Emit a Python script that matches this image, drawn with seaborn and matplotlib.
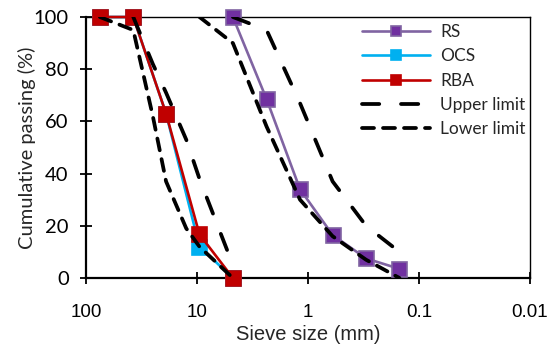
import matplotlib
matplotlib.use("Agg")
import matplotlib.pyplot as plt
import numpy as np
import pandas as pd
import seaborn as sns
from matplotlib.ticker import FixedLocator, FuncFormatter, NullLocator

# ---- data ----
coarse_sizes = [75, 37.5, 19, 9.5, 4.75]
rba = [100, 100, 63, 16.7, 0]
ocs = [100, 100, 63, 12, 0]

fine_sizes = [4.75, 2.36, 1.18, 0.6, 0.3, 0.15]
rs = [100, 68.5, 34, 16.5, 7.5, 3.5]

coarse_upper_sizes = [37.5, 25, 19, 12.5, 9.5, 4.75]
coarse_upper = [100, 82, 71, 53, 38, 5]
coarse_lower_sizes = [75, 37.5, 25, 19, 12.5, 9.5, 4.75]
coarse_lower = [100, 95, 62, 37, 19, 12, 0]

fine_upper_sizes = [4.75, 2.36, 1.18, 0.6, 0.3, 0.15]
fine_upper = [100, 95, 67, 37, 20, 10]
fine_lower_sizes = [9.5, 4.75, 2.36, 1.18, 0.6, 0.3, 0.15]
fine_lower = [100, 90, 58, 30, 16, 7, 0]

x_ticks = [100, 10, 1, 0.1, 0.01]
y_ticks = [0, 20, 40, 60, 80, 100]

sns.set_style("ticks")
plt.rcParams["font.family"] = ["Lato", "DejaVu Sans"]

W, H = 556, 344
fig = plt.figure(figsize=(W / 100, H / 100), dpi=100)
ax = fig.add_axes([86 / W, 1 - 278 / H, (530 - 86) / W, (278 - 17) / H])

def series(x, y, **kw):
    df = pd.DataFrame({"size": x, "passing": y})
    sns.lineplot(data=df, x="size", y="passing", ax=ax, sort=False,
                 estimator=None, **kw)

ms = 10.8
series(fine_sizes, rs, color="#8064A2", linewidth=1.9, marker="s", markersize=ms,
       markerfacecolor="#7030A0", markeredgecolor="#8064A2", markeredgewidth=1.2,
       label="RS", clip_on=False, zorder=3)
series(coarse_sizes, ocs, color="#00B0F0", linewidth=1.9, marker="s", markersize=ms,
       markerfacecolor="#00B0F0", markeredgecolor="#00B0F0", markeredgewidth=1.2,
       label="OCS", clip_on=False, zorder=3)
series(coarse_sizes, rba, color="#C00000", linewidth=1.9, marker="s", markersize=ms,
       markerfacecolor="#C00000", markeredgecolor="#C00000", markeredgewidth=1.2,
       label="RBA", clip_on=False, zorder=4)

up_style = dict(color="black", linewidth=2.7, linestyle=(0, (4.6, 5.8)),
                dash_capstyle="round", zorder=5)
lo_style = dict(color="black", linewidth=2.7, linestyle=(0, (3.2, 2.4)),
                dash_capstyle="round", zorder=5)
series(coarse_upper_sizes, coarse_upper, label="Upper limit", **up_style)
series(fine_upper_sizes, fine_upper, label="_nolegend_", **up_style)
series(coarse_lower_sizes, coarse_lower, label="Lower limit", **lo_style)
series(fine_lower_sizes, fine_lower, label="_nolegend_", **lo_style)

ax.set_xscale("log")
ax.set_xlim(100, 0.01)
ax.set_ylim(0, 100)
ax.xaxis.set_major_locator(FixedLocator(x_ticks))
ax.xaxis.set_minor_locator(NullLocator())
ax.xaxis.set_major_formatter(FuncFormatter(lambda v, p: f"{v:g}"))
ax.set_yticks(y_ticks)

for s in ["left", "bottom"]:
    ax.spines[s].set_linewidth(1.6)
for s in ["top", "right"]:
    ax.spines[s].set_linewidth(1.0)
for s in ax.spines.values():
    s.set_color("black")

ax.tick_params(axis="both", direction="inout", length=9, width=1.3, colors="black")
ax.tick_params(axis="x", pad=14)
ax.tick_params(axis="y", pad=8)
for lab in ax.get_xticklabels():
    lab.set_fontfamily(["Liberation Sans", "DejaVu Sans"])
    lab.set_fontsize(13.5)
for lab in ax.get_yticklabels():
    lab.set_fontfamily(["Lato", "DejaVu Sans"])
    lab.set_fontsize(14.5)

ax.set_xlabel("Sieve size (mm)", fontsize=14.5, family=["Liberation Sans", "DejaVu Sans"])
ax.xaxis.set_label_coords(0.5, (278 - 325) / 261)
ax.set_ylabel("Cumulative passing (%)", fontsize=14.5, family=["Lato", "DejaVu Sans"])
ax.yaxis.set_label_coords(-0.112, 0.5)

handles, labels = ax.get_legend_handles_labels()
order = ["RS", "OCS", "RBA", "Upper limit", "Lower limit"]
hmap = dict(zip(labels, handles))
leg = ax.legend([hmap[k] for k in order], order, loc="upper left",
                bbox_to_anchor=((362 - 86) / 444, (278 - 24) / 261),
                frameon=False, handlelength=3.9, handletextpad=0.6,
                labelspacing=0.48, markerscale=0.68, borderaxespad=0.0,
                borderpad=0.0,
                prop={"family": ["Lato", "DejaVu Sans"], "size": 12.5})

fig.savefig("out.png", dpi=100)
